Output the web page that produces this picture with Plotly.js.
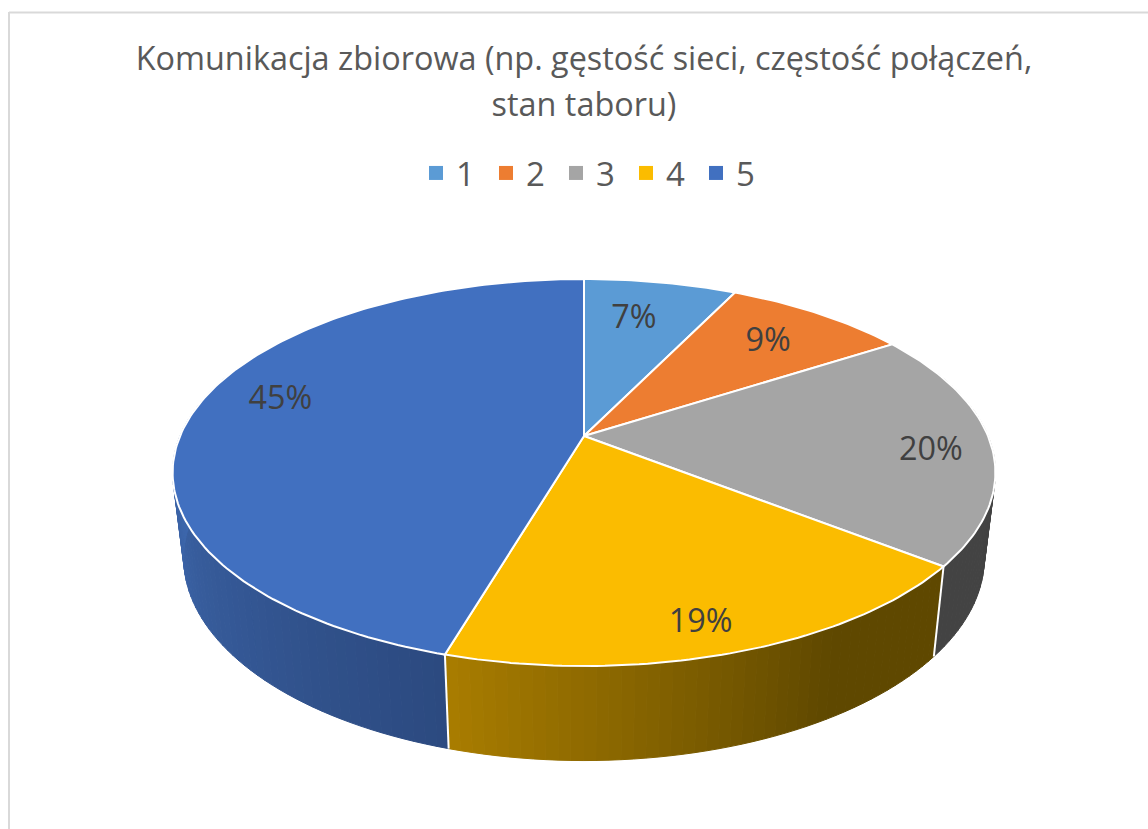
<!DOCTYPE html>
<html><head><meta charset="utf-8">
<script src="https://cdn.plot.ly/plotly-3.0.1.min.js"></script>
<style>html,body{margin:0;padding:0;background:#fff}#chart{width:1148px;height:829px}</style>
</head><body><div id="chart"></div>
<script>
// ---- data ----
const categories = ['1','2','3','4','5'];
const shares = [7.2, 8.7, 19.7, 18.95, 45.45];
const titleLines = ['Komunikacja zbiorowa (np. gęstość sieci, częstość połączeń,','stan taboru)'];
// ---- style ----
const topColors = ['#5b9bd5','#ed7d31','#a5a5a5','#fbbc00','#4170c0'];
const wallStart = ['#3a6199','#8a4a1d','#434343','#5f4800','#2c4a80'];
const wallEnd   = ['#3a6199','#8a4a1d','#434343','#a87c00','#3e68ae'];
const wallBlendFrom = [0,0,0,0.3,0], wallBlendTo = [1,1,1,1,0.45];
const labelRadius = [0.74,0.76,0.85,0.87,0.81];
const labelTurn  = [-2,0,2,1.5,7];
const textColor = '#595959', labelColor='#404040', fontName = '"Open Sans", sans-serif';
// ---- projection of the tilted disc ----
const cx=584, cy=436, A=404, B=186.6, k=0.1886, wallScaleX=0.973, wallScaleY=1.046, wallY=520;
function topPt(deg,r){r=r===undefined?1:r;const t=deg*Math.PI/180,u=r*Math.sin(t),v=r*Math.cos(t),w=1+k*v;
  return [cx+A*u/w, cy-B*v/w];}
function lowPt(deg){const p=topPt(deg);return [cx+wallScaleX*(p[0]-cx), wallY+wallScaleY*(p[1]-cy)];}
function mix(a,b,f){const h=s=>[1,3,5].map(i=>parseInt(s.substr(i,2),16));const x=h(a),y=h(b);
  return 'rgb('+x.map((c,i)=>Math.round(c+(y[i]-c)*f)).join(',')+')';}
const total=shares.reduce((a,b)=>a+b,0);
const edges=[0];shares.forEach(s=>edges.push(edges[edges.length-1]+s/total*360));
const traces=[];
// side walls as narrow strips
shares.forEach((s,i)=>{
  const n=Math.max(2,Math.ceil((edges[i+1]-edges[i])/1.5));
  for(let j=0;j<n;j++){
    const a=edges[i]+(edges[i+1]-edges[i])*j/n,b=edges[i]+(edges[i+1]-edges[i])*(j+1)/n;
    if(Math.cos((a+b)/2*Math.PI/180)>0.35) continue;
    const P=[topPt(a),topPt(b),lowPt(b),lowPt(a),topPt(a)];
    const q=j/(n-1), f=Math.max(0,Math.min(1,(q-wallBlendFrom[i])/(wallBlendTo[i]-wallBlendFrom[i])));
    const c=mix(wallStart[i],wallEnd[i],f);
    traces.push({type:'scatter',mode:'lines',x:P.map(p=>p[0]),y:P.map(p=>p[1]),fill:'toself',fillcolor:c,
      line:{color:c,width:1},hoverinfo:'skip',showlegend:false});
  }
});
// white edges between walls
edges.forEach(e=>{ if(Math.cos(e*Math.PI/180)<-0.1){const a=topPt(e),b=lowPt(e);
  traces.push({type:'scatter',mode:'lines',x:[a[0],b[0]],y:[a[1],b[1]],line:{color:'#ffffff',width:2},hoverinfo:'skip',showlegend:false});}});
// top faces
shares.forEach((s,i)=>{
  const X=[cx],Y=[cy],n=Math.ceil((edges[i+1]-edges[i])/1);
  for(let j=0;j<=n;j++){const p=topPt(edges[i]+(edges[i+1]-edges[i])*j/n);X.push(p[0]);Y.push(p[1]);}
  X.push(cx);Y.push(cy);
  traces.push({type:'scatter',mode:'lines',x:X,y:Y,fill:'toself',fillcolor:topColors[i],line:{color:'#ffffff',width:2},
    name:categories[i],hovertemplate:categories[i]+': '+Math.round(s)+'%<extra></extra>',showlegend:false});
});
// labels
const lp=shares.map((s,i)=>topPt((edges[i]+edges[i+1])/2+labelTurn[i],labelRadius[i]));
traces.push({type:'scatter',mode:'text',x:lp.map(p=>p[0]),y:lp.map(p=>p[1]+3),text:shares.map(s=>Math.round(s/total*100)+'%'),
  textposition:'middle center',textfont:{family:fontName,size:32.4,color:labelColor},hoverinfo:'skip',showlegend:false});
// legend entries
categories.forEach((c,i)=>traces.push({type:'scatter',mode:'markers',x:[null],y:[null],name:c,
  marker:{symbol:'square',size:14,color:topColors[i]},hoverinfo:'skip',showlegend:true}));
const titleSpan=t=>'<span style="font-size:32.4px">'+t+'</span>';
const layout={width:1148,height:829,margin:{l:0,r:0,t:0,b:0},paper_bgcolor:'#fff',plot_bgcolor:'#fff',
  xaxis:{range:[0,1148],visible:false,fixedrange:true},
  yaxis:{range:[829,0],visible:false,fixedrange:true},
  title:{text:titleLines.map(titleSpan).join('<br>'),font:{family:fontName,size:35.4,color:textColor},x:584/1148,xanchor:'center',y:1-70/829,yanchor:'middle'},
  legend:{orientation:'h',x:591/1148,xanchor:'center',y:1-173/829,yanchor:'middle',font:{family:fontName,size:33,color:textColor},itemwidth:30,entrywidth:25,entrywidthmode:'pixels',itemclick:false,itemdoubleclick:false},
  shapes:[
    {type:'line',xref:'paper',yref:'paper',x0:9/1148,x1:1,y0:1-12.5/829,y1:1-12.5/829,line:{color:'#d9d9d9',width:2}},
    {type:'line',xref:'paper',yref:'paper',x0:9/1148,x1:9/1148,y0:1-12/829,y1:0,line:{color:'#d9d9d9',width:2}}
  ],showlegend:true};
Plotly.newPlot('chart',traces,layout,{displayModeBar:false});
</script></body></html>
